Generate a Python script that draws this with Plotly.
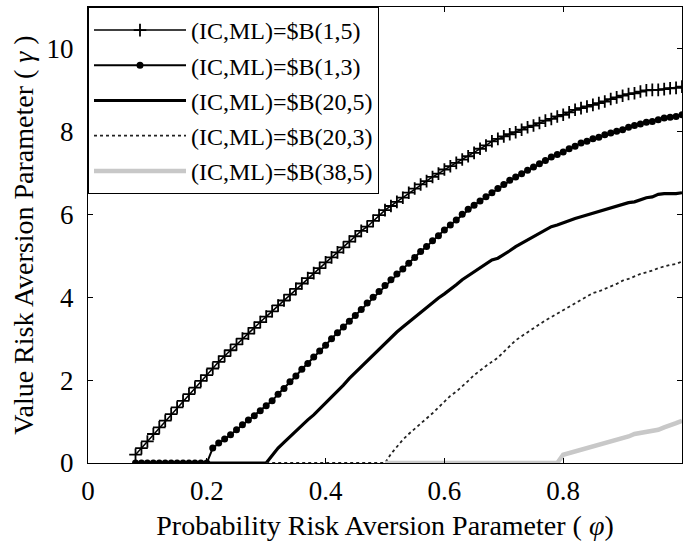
import plotly.graph_objects as go

phi = [0.08, 0.09, 0.10, 0.11, 0.12, 0.13, 0.14, 0.15, 0.16, 0.17, 0.18, 0.19,
       0.20, 0.21, 0.22, 0.23, 0.24, 0.25, 0.26, 0.27, 0.28, 0.29, 0.30, 0.31,
       0.32, 0.33, 0.34, 0.35, 0.36, 0.37, 0.38, 0.39, 0.40, 0.41, 0.42, 0.43,
       0.44, 0.45, 0.46, 0.47, 0.48, 0.49, 0.50, 0.51, 0.52, 0.53, 0.54, 0.55,
       0.56, 0.57, 0.58, 0.59, 0.60, 0.61, 0.62, 0.63, 0.64, 0.65, 0.66, 0.67,
       0.68, 0.69, 0.70, 0.71, 0.72, 0.73, 0.74, 0.75, 0.76, 0.77, 0.78, 0.79,
       0.80, 0.81, 0.82, 0.83, 0.84, 0.85, 0.86, 0.87, 0.88, 0.89, 0.90, 0.91,
       0.92, 0.93, 0.94, 0.95, 0.96, 0.97, 0.98, 0.99, 1.00]

# (IC,ML)=$B(1,5), phi 0.08..1.00
g_1_5 = [0.20, 0.36, 0.52, 0.70, 0.86, 1.02, 1.18, 1.34, 1.50, 1.66, 1.82, 1.98,
         2.12, 2.28, 2.44, 2.58, 2.72, 2.86, 3.00, 3.12, 3.26, 3.40, 3.53, 3.66,
         3.80, 3.92, 4.06, 4.20, 4.33, 4.46, 4.58, 4.70, 4.84, 4.96, 5.08, 5.20,
         5.34, 5.47, 5.60, 5.70, 5.84, 5.98, 6.10, 6.20, 6.30, 6.40, 6.52, 6.62,
         6.72, 6.80, 6.90, 6.98, 7.08, 7.16, 7.24, 7.32, 7.40, 7.48, 7.58, 7.66,
         7.76, 7.82, 7.88, 7.93, 7.98, 8.04, 8.10, 8.14, 8.20, 8.26, 8.30, 8.36,
         8.40, 8.46, 8.52, 8.56, 8.60, 8.64, 8.68, 8.72, 8.78, 8.82, 8.86, 8.90,
         8.92, 8.96, 8.99, 9.00, 9.00, 9.02, 9.04, 9.05, 9.08]

# (IC,ML)=$B(1,3), phi 0.08..1.00
g_1_3 = [0.00, 0.00, 0.00, 0.00, 0.00, 0.00, 0.00, 0.00, 0.00, 0.00, 0.00, 0.00,
         0.00, 0.36, 0.48, 0.58, 0.68, 0.80, 0.92, 1.04, 1.14, 1.26, 1.38, 1.50,
         1.66, 1.80, 1.96, 2.10, 2.26, 2.40, 2.56, 2.70, 2.84, 3.00, 3.14, 3.28,
         3.42, 3.56, 3.70, 3.86, 4.00, 4.14, 4.28, 4.42, 4.56, 4.68, 4.82, 4.96,
         5.10, 5.22, 5.36, 5.48, 5.62, 5.74, 5.86, 6.00, 6.12, 6.22, 6.32, 6.42,
         6.52, 6.62, 6.72, 6.82, 6.90, 6.98, 7.06, 7.14, 7.22, 7.30, 7.38, 7.44,
         7.50, 7.58, 7.64, 7.72, 7.76, 7.82, 7.86, 7.92, 7.96, 8.00, 8.04, 8.10,
         8.14, 8.18, 8.22, 8.24, 8.28, 8.32, 8.34, 8.36, 8.40]

# (IC,ML)=$B(20,5), phi 0.20..1.00
phi_20_5 = phi[12:]
g_20_5 = [0.00, 0.00, 0.00, 0.00, 0.00, 0.00, 0.00, 0.00, 0.00, 0.00, 0.00, 0.18,
          0.36, 0.50, 0.64, 0.78, 0.92, 1.04, 1.16, 1.30, 1.44, 1.58, 1.74, 1.88,
          2.04, 2.18, 2.34, 2.48, 2.62, 2.74, 2.88, 3.02, 3.16, 3.28, 3.40, 3.52,
          3.64, 3.76, 3.86, 3.98, 4.08, 4.18, 4.30, 4.42, 4.52, 4.62, 4.72, 4.82,
          4.90, 4.94, 5.02, 5.12, 5.22, 5.30, 5.40, 5.48, 5.56, 5.64, 5.70, 5.74,
          5.80, 5.84, 5.90, 5.94, 5.98, 6.02, 6.06, 6.10, 6.14, 6.18, 6.24, 6.28,
          6.30, 6.36, 6.40, 6.42, 6.48, 6.50, 6.50, 6.50, 6.52]

# (IC,ML)=$B(20,3), phi 0.30..1.00
phi_20_3 = phi[22:]
g_20_3 = [0.00, 0.00, 0.00, 0.00, 0.00, 0.00, 0.00, 0.00, 0.00, 0.00, 0.00, 0.00,
          0.00, 0.00, 0.00, 0.00, 0.00, 0.00, 0.00, 0.00, 0.00, 0.22, 0.40, 0.56,
          0.70, 0.82, 0.94, 1.08, 1.20, 1.34, 1.48, 1.62, 1.72, 1.84, 1.98, 2.12,
          2.24, 2.34, 2.44, 2.54, 2.68, 2.82, 2.96, 3.06, 3.16, 3.24, 3.34, 3.44,
          3.52, 3.60, 3.70, 3.78, 3.86, 3.94, 4.02, 4.10, 4.14, 4.20, 4.26, 4.32,
          4.40, 4.44, 4.50, 4.56, 4.60, 4.64, 4.70, 4.74, 4.78, 4.80, 4.86]

# (IC,ML)=$B(38,5), phi 0.50..1.00
phi_38_5 = phi[42:]
g_38_5 = [0.00, 0.00, 0.00, 0.00, 0.00, 0.00, 0.00, 0.00, 0.00, 0.00, 0.00, 0.00,
          0.00, 0.00, 0.00, 0.00, 0.00, 0.00, 0.00, 0.00, 0.00, 0.00, 0.00, 0.00,
          0.00, 0.00, 0.00, 0.00, 0.00, 0.00, 0.20, 0.24, 0.28, 0.32, 0.34, 0.38,
          0.42, 0.46, 0.50, 0.54, 0.60, 0.64, 0.70, 0.72, 0.74, 0.76, 0.80, 0.86,
          0.90, 0.96, 1.02]

labels = ["(IC,ML)=$B(1,5)", "(IC,ML)=$B(1,3)", "(IC,ML)=$B(20,5)",
          "(IC,ML)=$B(20,3)", "(IC,ML)=$B(38,5)"]

x_ticks = [0, 0.2, 0.4, 0.6, 0.8, 1]
x_tick_text = ["0", "0.2", "0.4", "0.6", "0.8", "1"]
y_ticks = [0, 2, 4, 6, 8, 10]

FONT = "Liberation Serif"

fig = go.Figure()
fig.add_trace(go.Scatter(
    x=phi, y=g_1_5, name=labels[0], mode="lines+markers", legendgroup="a",
    line=dict(color="black", width=1.5),
    marker=dict(symbol="cross-thin", size=9, color="black",
                line=dict(color="black", width=1.8))))
fig.add_trace(go.Scatter(
    x=phi, y=g_1_3, name=labels[1], mode="lines+markers", legendgroup="b",
    line=dict(color="black", width=2),
    marker=dict(symbol="circle", size=7, color="black")))
fig.add_trace(go.Scatter(
    x=phi_20_5, y=g_20_5, name=labels[2], mode="lines", legendgroup="c",
    line=dict(color="black", width=3.2)))
fig.add_trace(go.Scatter(
    x=phi_20_3, y=g_20_3, name=labels[3], mode="lines", legendgroup="d",
    line=dict(color="#222222", width=1.8, dash="dot")))
fig.add_trace(go.Scatter(
    x=phi_38_5, y=g_38_5, name=labels[4], mode="lines", legendgroup="e",
    line=dict(color="#c8c8c8", width=4.5)))

axis_common = dict(showline=True, linecolor="black", linewidth=1, mirror="ticks",
                   ticks="inside", ticklen=5, tickcolor="black", showgrid=False,
                   zeroline=False, automargin=False,
                   tickfont=dict(family=FONT, size=27, color="black"))

fig.update_layout(
    width=683, height=541,
    margin=dict(l=88, r=1, t=7, b=78, autoexpand=False),
    paper_bgcolor="white", plot_bgcolor="white",
    font=dict(family=FONT, color="black"),
    xaxis=dict(range=[0, 1], tickvals=x_ticks, ticktext=x_tick_text,
               ticklabelstandoff=4,
               title=dict(text="Probability Risk Aversion Parameter ( <i>φ</i>)",
                          font=dict(family=FONT, size=28), standoff=10),
               **axis_common),
    yaxis=dict(range=[0, 11], tickvals=y_ticks, ticklabelstandoff=8,
               title=dict(text="Value Risk Aversion Parameter ( <i>γ</i> )",
                          font=dict(family=FONT, size=28), standoff=4),
               **axis_common),
    legend=dict(x=0, y=1, xanchor="left", yanchor="top",
                bgcolor="white", bordercolor="black", borderwidth=1,
                font=dict(family=FONT, size=24, color="black"),
                itemwidth=92, traceorder="grouped", tracegroupgap=1),
    showlegend=True,
)

fig.write_html(
    "out.html",
    config={"displayModeBar": False},
    post_script="document.body.style.margin='0';document.body.style.overflow='hidden';",
)
